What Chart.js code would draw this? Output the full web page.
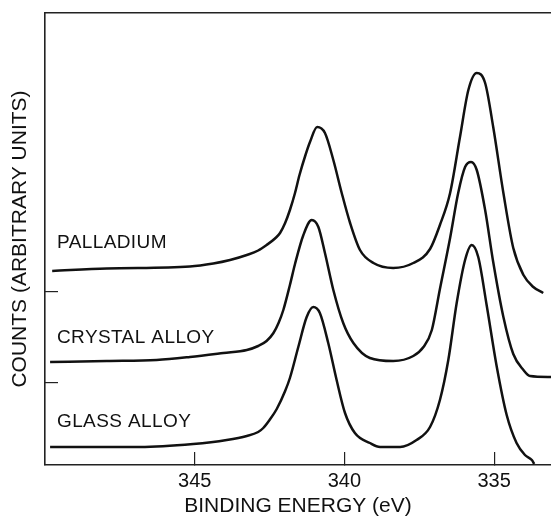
<!DOCTYPE html>
<html>
<head>
<meta charset="utf-8">
<script src="https://cdn.jsdelivr.net/npm/chart.js@4"></script>
<style>
    body { margin: 0; background: #fff; }
    #chart-wrap { width: 551px; height: 519px; }
</style>
</head>
<body>
<div id="chart-wrap"><canvas id="xps-chart" width="551" height="519"></canvas></div>
<script>
// Pd 3d spectra, binding energy (eV) vs counts (arbitrary units, stacked)
const seriesNames = ['PALLADIUM', 'CRYSTAL ALLOY', 'GLASS ALLOY'];

const palladiumEnergy = [349.76, 347.94, 345.16, 344.38, 343.82, 343.26, 342.88, 342.6, 342.3, 342.15, 341.98, 341.82, 341.65, 341.5, 341.3, 341.15, 340.91, 340.65, 340.37, 340.09, 339.81, 339.48, 339.03, 338.37, 337.70, 337.14, 336.81, 336.47, 336.14, 335.86, 335.58, 335.30, 335.03, 334.69, 334.36, 334.02, 333.69, 333.36];
const palladiumCounts = [194, 196.5, 198.5, 201.5, 205, 210, 214.5, 220, 227, 232, 242, 255, 272, 290, 310, 323, 338, 332, 305, 272, 242, 215, 202, 197, 202, 216, 240, 272, 328, 375, 392, 382, 338, 272, 217, 190, 178, 172];

const crystalEnergy = [349.83, 347.94, 346.27, 345.16, 344.04, 343.26, 342.88, 342.6, 342.37, 342.2, 342.04, 341.82, 341.65, 341.37, 341.09, 340.87, 340.65, 340.37, 340.04, 339.70, 339.15, 338.37, 337.70, 337.36, 337.08, 336.81, 336.47, 336.20, 335.97, 335.77, 335.58, 335.30, 335.03, 334.69, 334.36, 334.02, 333.80, 333.10];
const crystalCounts = [103, 104, 105, 108, 112, 115, 119, 124, 132, 142, 155, 180, 201, 230, 245, 238, 212, 175, 142, 122, 107, 104, 109, 118, 135, 176, 227, 272, 298, 303, 295, 255, 203, 148, 111, 95, 89, 88];

const glassEnergy = [349.83, 346.83, 345.05, 343.93, 343.26, 342.88, 342.71, 342.5, 342.26, 341.98, 341.82, 341.54, 341.26, 341.04, 340.82, 340.54, 340.26, 339.98, 339.65, 339.15, 338.81, 338.14, 337.59, 337.14, 336.81, 336.53, 336.25, 335.97, 335.75, 335.53, 335.25, 334.91, 334.58, 334.25, 333.97, 333.74, 333.66];
const glassCounts = [18, 18, 21, 25, 29, 33, 37, 45, 56, 74, 87, 118, 148, 158, 152, 122, 85, 52, 32, 22, 18, 18, 25, 38, 65, 105, 162, 205, 220, 208, 160, 98, 50, 22, 10, 5, 1];

const xTickValues = [345, 340, 335];
const yTickValues = [82, 173];

// where each curve's name sits, in data units (energy, counts)
const labelEnergy = [349.6, 349.6, 349.6];
const labelCounts = [222, 127, 43];

const FONT = '"Liberation Sans", Arial, sans-serif';
const INK = '#111';

let xpsChart;

document.addEventListener('DOMContentLoaded', function() {
    initializeChart();
});

function toPoints(energy, counts) {
    return energy.map((e, i) => ({ x: e, y: counts[i] }));
}

function makeDataset(name, energy, counts) {
    return {
        label: name,
        data: toPoints(energy, counts),
        borderColor: INK,
        borderWidth: 2.5,
        pointRadius: 0,
        fill: false,
        cubicInterpolationMode: 'monotone'
    };
}

// draws the curve names next to each baseline
const curveLabels = {
    id: 'curveLabels',
    afterDatasetsDraw(chart) {
        const ctx = chart.ctx;
        const xScale = chart.scales.x;
        const yScale = chart.scales.y;
        ctx.save();
        ctx.font = '19px ' + FONT;
        ctx.letterSpacing = '0.4px';
        ctx.fillStyle = INK;
        ctx.textAlign = 'left';
        ctx.textBaseline = 'middle';
        seriesNames.forEach((name, i) => {
            ctx.fillText(name, xScale.getPixelForValue(labelEnergy[i]), yScale.getPixelForValue(labelCounts[i]));
        });
        ctx.restore();
    }
};

function initializeChart() {
    const ctx = document.getElementById('xps-chart').getContext('2d');
    xpsChart = new Chart(ctx, {
        type: 'line',
        data: {
            datasets: [
                makeDataset(seriesNames[0], palladiumEnergy, palladiumCounts),
                makeDataset(seriesNames[1], crystalEnergy, crystalCounts),
                makeDataset(seriesNames[2], glassEnergy, glassCounts)
            ]
        },
        options: {
            responsive: false,
            animation: false,
            devicePixelRatio: 1,
            layout: { padding: 0 },
            plugins: {
                legend: { display: false },
                tooltip: { enabled: false }
            },
            scales: {
                x: {
                    type: 'linear',
                    position: 'bottom',
                    reverse: true,
                    min: 333.1,
                    max: 350,
                    afterBuildTicks: scale => {
                        scale.ticks = xTickValues.map(v => ({ value: v }));
                    },
                    afterFit: scale => { scale.height = 54; },
                    grid: {
                        drawOnChartArea: false,
                        tickLength: -13,
                        color: '#222',
                        lineWidth: 1.2
                    },
                    border: { color: '#222', width: 1.6 },
                    ticks: {
                        color: INK,
                        padding: 17,
                        maxRotation: 0,
                        font: { family: FONT, size: 20 },
                        callback: v => String(v)
                    },
                    title: {
                        display: true,
                        text: 'BINDING ENERGY (eV)',
                        color: INK,
                        padding: { top: 0, bottom: 0 },
                        font: { family: FONT, size: 21 }
                    }
                },
                xTop: {
                    type: 'linear',
                    position: 'top',
                    reverse: true,
                    min: 333.1,
                    max: 350,
                    afterFit: scale => { scale.height = 13; },
                    grid: { drawOnChartArea: false, drawTicks: false },
                    border: { color: '#222', width: 1.6 },
                    ticks: { display: false }
                },
                y: {
                    type: 'linear',
                    position: 'left',
                    min: 0,
                    max: 452,
                    afterBuildTicks: scale => {
                        scale.ticks = yTickValues.map(v => ({ value: v }));
                    },
                    afterFit: scale => { scale.width = 45; },
                    grid: {
                        drawOnChartArea: false,
                        tickLength: -13,
                        color: '#222',
                        lineWidth: 1.2
                    },
                    border: { color: '#222', width: 1.6 },
                    ticks: { display: false },
                    title: {
                        display: true,
                        text: 'COUNTS (ARBITRARY UNITS)',
                        color: INK,
                        padding: { top: 8, bottom: 0 },
                        font: { family: FONT, size: 21 }
                    }
                }
            }
        },
        plugins: [curveLabels]
    });
}
</script>
</body>
</html>
